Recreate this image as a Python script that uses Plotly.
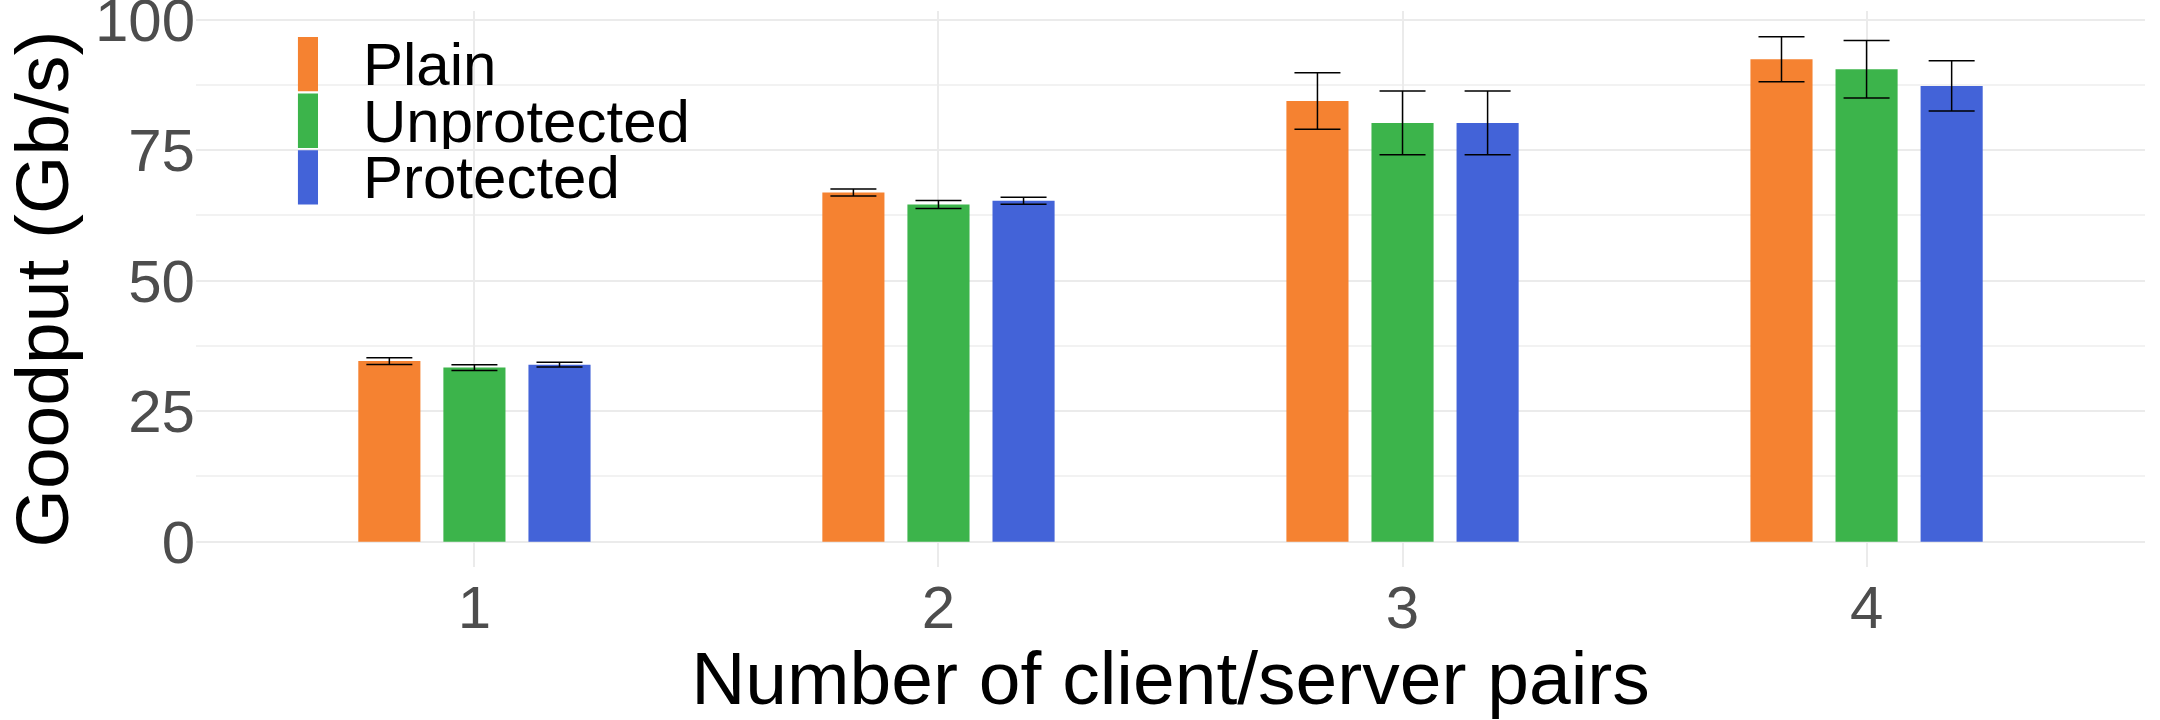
import plotly.graph_objects as go

categories = ["1", "2", "3", "4"]
cat_positions = [1, 2, 3, 4]
series_names = ["Plain", "Unprotected", "Protected"]
series_colors = ["#F58231", "#3CB44B", "#4363D8"]

plain_values = [34.6, 66.9, 84.4, 92.4]
plain_errors = [0.64, 0.67, 5.4, 4.3]
unprotected_values = [33.35, 64.6, 80.2, 90.5]
unprotected_errors = [0.55, 0.77, 6.1, 5.5]
protected_values = [33.9, 65.3, 80.2, 87.3]
protected_errors = [0.45, 0.67, 6.1, 4.8]

y_tick_values = [0, 25, 50, 75, 100]
y_tick_labels = ["0", "25", "50", "75", "100"]

values = [plain_values, unprotected_values, protected_values]
errors = [plain_errors, unprotected_errors, protected_errors]

FONT = "Liberation Sans, Arial, Helvetica, sans-serif"

fig = go.Figure()
for name, color, vals, errs in zip(series_names, series_colors, values, errors):
    fig.add_trace(go.Bar(
        x=cat_positions, y=vals, name=name,
        marker=dict(color=color, line=dict(width=0)),
        error_y=dict(type="data", array=errs, visible=True,
                     color="black", thickness=1.5, width=23),
        showlegend=False,
    ))

# manual legend (tall narrow keys, like the reference)
key_x0, key_x1 = 0.0523, 0.0626
key_top = 0.9532
key_pitch = 0.1018
key_h = 0.0977
for i, (name, color) in enumerate(zip(series_names, series_colors)):
    y1 = key_top - i * key_pitch
    y0 = y1 - key_h
    fig.add_shape(type="rect", xref="paper", yref="paper",
                  x0=key_x0, x1=key_x1, y0=y0, y1=y1,
                  fillcolor=color, line=dict(width=0), layer="above")
    fig.add_annotation(xref="paper", yref="paper", x=0.0846, y=(y0 + y1) / 2,
                       text=name, showarrow=False, xanchor="left", yanchor="middle",
                       height=56, valign="middle",
                       font=dict(family=FONT, size=60, color="black"))

fig.update_layout(
    width=2160, height=720,
    margin=dict(l=196, r=15, t=11, b=153, autoexpand=False),
    plot_bgcolor="white", paper_bgcolor="white",
    barmode="group", bargap=0.45, bargroupgap=0.27,
    font=dict(family=FONT),
    xaxis=dict(
        range=[0.4, 4.6], tickmode="array", tickvals=cat_positions, ticktext=categories,
        showgrid=True, gridcolor="#EBEBEB", gridwidth=2, zeroline=False,
        showline=False, ticks="", automargin=False,
        tickfont=dict(family=FONT, size=60, color="#4D4D4D"),
        title=dict(text="Number of client/server pairs",
                   font=dict(family=FONT, size=75, color="black"), standoff=0),
    ),
    yaxis=dict(
        range=[-4.84, 101.64], tickmode="array", tickvals=y_tick_values, ticktext=y_tick_labels,
        showgrid=True, gridcolor="#EBEBEB", gridwidth=2, zeroline=False,
        showline=False, ticks="", automargin=False, ticklabeloverflow="allow",
        minor=dict(dtick=12.5, tick0=0, showgrid=True, gridcolor="#F2F2F2", gridwidth=1.5),
        tickfont=dict(family=FONT, size=60, color="#4D4D4D"),
        title=dict(text="Goodput (Gb/s)",
                   font=dict(family=FONT, size=75, color="black"), standoff=18),
    ),
)

fig.write_html(
    "out.html",
    config={"displayModeBar": False},
    post_script="document.body.style.margin='0';document.body.style.overflow='hidden';",
)
